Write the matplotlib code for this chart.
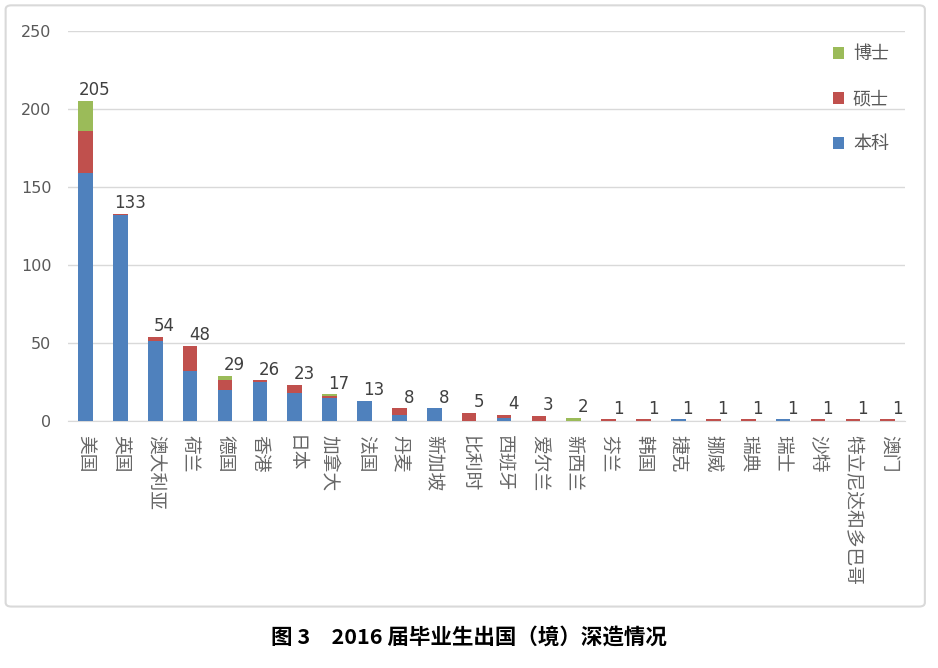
#-------------- Imports ---------------
from matplotlib import pyplot as plt
from matplotlib.patches import FancyBboxPatch
import numpy as np

plt.rcParams['font.family'] = ['Noto Sans CJK SC', 'DejaVu Sans']

#-------------- Data ---------------
countries = ['美国', '英国', '澳大利亚', '荷兰', '德国', '香港', '日本', '加拿大', '法国',
             '丹麦', '新加坡', '比利时', '西班牙', '爱尔兰', '新西兰', '芬兰', '韩国',
             '捷克', '挪威', '瑞典', '瑞士', '沙特', '特立尼达和多巴哥', '澳门']
benke = [159, 132, 51, 32, 20, 25, 18, 15, 13, 4, 8, 0, 2, 0, 0, 0, 0, 1, 0, 0, 1, 0, 0, 0]
shuoshi = [27, 1, 3, 16, 6, 1, 5, 1, 0, 4, 0, 5, 2, 3, 0, 1, 1, 0, 1, 1, 0, 1, 1, 1]
boshi = [19, 0, 0, 0, 3, 0, 0, 1, 0, 0, 0, 0, 0, 0, 2, 0, 0, 0, 0, 0, 0, 0, 0, 0]
yticks = [0, 50, 100, 150, 200, 250]

#-------------- Plot ---------------
blue = '#4f81bd'
red = '#c0504d'
green = '#9bbb59'

fig = plt.figure(figsize=(9.38, 6.68), dpi=100)
# chart frame
frame = FancyBboxPatch((0.006, 0.092), 0.98, 0.9, boxstyle='round,pad=0,rounding_size=0.006',
                       transform=fig.transFigure, facecolor='white', edgecolor='#d9d9d9',
                       linewidth=1.5, zorder=-5)
fig.patches.append(frame)

ax = fig.add_axes([0.0725, 0.3698, 0.8925, 0.5838])
ax.set_zorder(2)
ax.set_facecolor('none')
x = np.arange(len(countries))
b = np.array(benke)
s = np.array(shuoshi)
d = np.array(boshi)
w = 0.42
ax.bar(x, b, w, color=blue, label='本科', zorder=3)
ax.bar(x, s, w, bottom=b, color=red, label='硕士', zorder=3)
ax.bar(x, d, w, bottom=b + s, color=green, label='博士', zorder=3)

# total labels (slightly right of the bar, as in the original)
totals = b + s + d
for xi, t in zip(x, totals):
    ax.text(xi + 0.27, t + 1.2, str(t), ha='center', va='bottom', fontsize=12,
            color='#404040', family='DejaVu Sans')

ax.set_xlim(-0.5, len(countries) - 0.5)
ax.set_ylim(0, 250)
ax.set_yticks(yticks)
ax.set_yticklabels([str(v) for v in yticks], fontsize=11.5, color='#595959',
                   family='DejaVu Sans')
ax.yaxis.grid(True, color='#d9d9d9', linewidth=1, zorder=0)
ax.set_axisbelow(True)
ax.set_xticks(x)
ax.set_xticklabels(countries, rotation=-90, fontsize=13.5, color='#666666',
                   va='top', ha='center')
ax.tick_params(axis='both', length=0)
ax.tick_params(axis='y', pad=12)
ax.tick_params(axis='x', pad=10)
for side in ['top', 'right', 'left']:
    ax.spines[side].set_visible(False)
ax.spines['bottom'].set_color('#d9d9d9')

handles, labels = ax.get_legend_handles_labels()
ax.legend(handles[::-1], labels[::-1], loc='upper right', bbox_to_anchor=(1.0, 1.005),
          frameon=False, fontsize=13, labelcolor='#595959', handlelength=0.6,
          handleheight=0.6, labelspacing=1.5, handletextpad=0.5)

fig.text(0.5, 0.046, '图 3　2016 届毕业生出国（境）深造情况', ha='center', va='center',
         fontsize=15.5, fontweight='bold', color='black')

fig.savefig('out.png', dpi=100)
